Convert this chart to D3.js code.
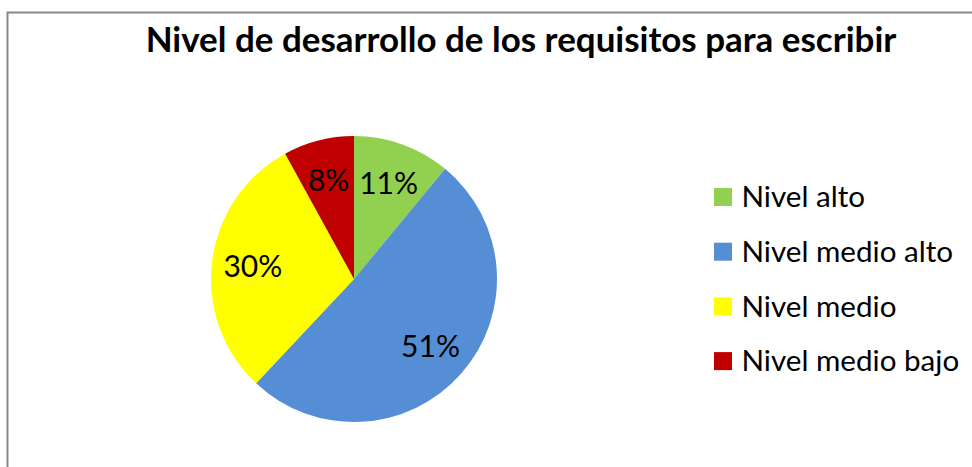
<!DOCTYPE html>
<html><head><meta charset="utf-8">
<script src="https://cdn.jsdelivr.net/npm/d3@7"></script>
<style>body{margin:0;background:#fff}svg{display:block}text{font-family:Lato,"Open Sans",sans-serif}</style>
</head><body>
<svg id="c" width="972" height="467"></svg>
<script>
const titleText = "Nivel de desarrollo de los requisitos para escribir";
const categories = ["Nivel alto", "Nivel medio alto", "Nivel medio", "Nivel medio bajo"];
const values = [11, 51, 30, 8];
const colors = ["#92D050", "#558ED5", "#FFFF00", "#C00000"];

const svg = d3.select("#c");
const W = 972, H = 467;
svg.append("rect").attr("width", W).attr("height", H).attr("fill", "#fff");
svg.append("rect").attr("x", 7.5).attr("y", 12.5).attr("width", W).attr("height", H)
  .attr("fill", "none").attr("stroke", "#878787").attr("stroke-width", 2);

function fit(t, w, base) {
  t.attr("font-size", base);
  const cw = t.node().getComputedTextLength();
  t.attr("font-size", base * w / cw);
}

const title = svg.append("text").attr("x", 521).attr("y", 52).attr("text-anchor", "middle")
  .attr("font-weight", "bold").attr("fill", "#000").text(titleText);
fit(title, 751, 28);

const cx = 354, cy = 279, R = 143;
const pie = d3.pie().sort(null).value(d => d)(values);
const arc = d3.arc().innerRadius(0).outerRadius(R);
const labelArc = d3.arc().innerRadius(102).outerRadius(102);
const g = svg.append("g").attr("transform", `translate(${cx},${cy})`);
g.selectAll("path").data(pie).join("path").attr("d", arc).attr("fill", (d, i) => colors[i]);
const fmt = d3.format(".0%");
const total = d3.sum(values);
g.selectAll("text").data(pie).join("text")
  .attr("transform", d => `translate(${labelArc.centroid(d)})`)
  .attr("text-anchor", "middle").attr("dy", "0.35em").attr("fill", "#000")
  .attr("font-size", 30)
  .text(d => fmt(d.data / total));

const leg = svg.append("g");
const items = leg.selectAll("g").data(categories).join("g")
  .attr("transform", (d, i) => `translate(714,${197 + i * 54.7})`);
items.append("rect").attr("x", 0).attr("y", -9).attr("width", 18).attr("height", 18)
  .attr("fill", (d, i) => colors[i]);
items.append("text").attr("x", 27.5).attr("dy", "0.35em").attr("fill", "#000")
  .attr("font-size", 29.6).text(d => d);
</script>
</body></html>
